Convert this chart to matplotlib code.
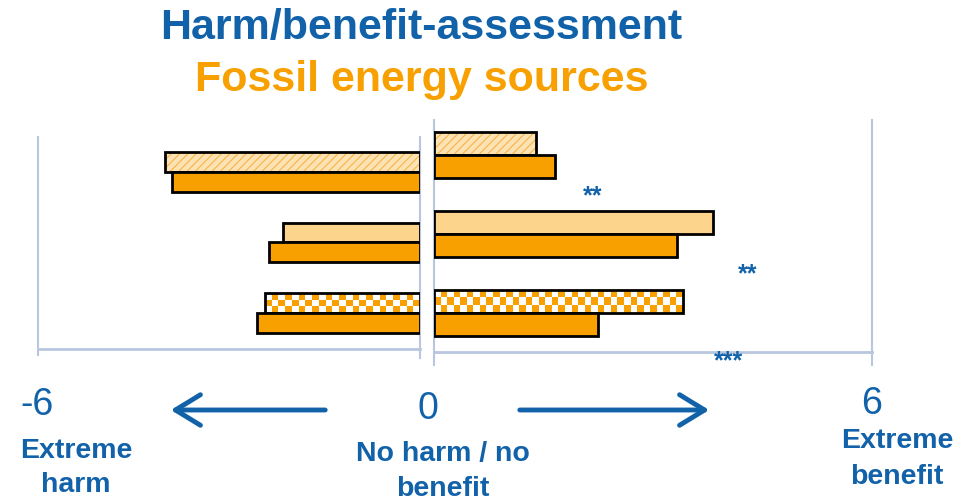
import numpy as np
import matplotlib
matplotlib.use('Agg')
import matplotlib.pyplot as plt
from matplotlib.colors import ListedColormap
from matplotlib.patches import FancyArrowPatch

# values (units of the -6 .. 6 scale)
groups = ['group 1', 'group 2', 'group 3']
harm_top = [-4.0, -2.15, -2.43]
harm_bottom = [-3.9, -2.37, -2.56]
benefit_top = [1.40, 3.82, 3.41]
benefit_bottom = [1.66, 3.33, 2.25]
top_fill = ['hatch', 'plain', 'checker']
stars = ['**', '**', '***']
star_x = [2.18, 4.29, 4.04]
star_y = [0.46, 1.45, 2.55]

BLUE = '#1262AA'
ORANGE = '#F7A000'
LIGHT = '#FCD48C'
GRID = '#B8C6DE'
W, H = 966, 504

plt.rcParams['font.family'] = ['Liberation Sans', 'DejaVu Sans']
plt.rcParams['hatch.linewidth'] = 0.8
fig = plt.figure(figsize=(9.66, 5.04), dpi=100)


def box(x0, y0, x1, y1):
    # pixel box (top-left origin) -> figure fraction rect
    return [x0 / W, 1 - y1 / H, (x1 - x0) / W, (y1 - y0) / H]


def draw_top_bar(ax, y, v, h, kind, px_per_unit):
    if kind == 'hatch':
        ax.barh(y, v, height=h, color='#FDE3B4', edgecolor='#F5B547', hatch='////', linewidth=0)
    elif kind == 'checker':
        b = ax.barh(y, v, height=h, color='white', linewidth=0)[0]
        ncols = max(1, int(round(abs(v) * px_per_unit / 6.6)))
        nrows = 3
        cells = (np.add.outer(np.arange(nrows), np.arange(ncols)) % 2).astype(float)
        im = ax.imshow(cells, cmap=ListedColormap(['white', ORANGE]), aspect='auto',
                       extent=(0, v, y + h / 2, y - h / 2), interpolation='nearest', zorder=2)
        im.set_clip_path(b)
    else:
        ax.barh(y, v, height=h, color=LIGHT, linewidth=0)
    ax.barh(y, v, height=h, color='none', edgecolor='black', linewidth=2, zorder=3)


def panel(ax, top, bottom, h, xlim, ylim, px_per_unit):
    ax.axis('off')
    for i in range(len(groups)):
        draw_top_bar(ax, i - h / 2, top[i], h, top_fill[i], px_per_unit)
        ax.barh(i + h / 2, bottom[i], height=h, color=ORANGE, edgecolor='black',
                linewidth=2, zorder=3)
    ax.set_xlim(*xlim)
    ax.set_ylim(*ylim)


# left panel: harm
axL = fig.add_axes(box(38, 130, 420, 360))
hL = 20 / 70.5
panel(axL, harm_top, harm_bottom, hL, (-6, 0), (2.667, -0.596), 63.7)
axL.plot([-6, -6], [-0.496, 2.596], color=GRID, lw=1.5, zorder=1, clip_on=False)
axL.plot([0, 0], [-0.496, 2.64], color=GRID, lw=1.5, zorder=1, clip_on=False)
axL.plot([-6, 0], [2.51, 2.51], color=GRID, lw=2, zorder=1, clip_on=False)

# right panel: benefit
axR = fig.add_axes(box(434, 115, 872, 370))
hR = 23 / 79
panel(axR, benefit_top, benefit_bottom, hR, (0, 6), (2.72, -0.506), 73)
axR.plot([0, 0], [-0.443, 2.658], color=GRID, lw=1.5, zorder=1, clip_on=False)
axR.plot([6, 6], [-0.443, 2.658], color=GRID, lw=1.5, zorder=1, clip_on=False)
axR.plot([0, 6], [2.494, 2.494], color=GRID, lw=2, zorder=1, clip_on=False)
for s, x, y in zip(stars, star_x, star_y):
    axR.text(x, y + 0.06, s, color=BLUE, fontsize=18, fontweight='bold', ha='center',
             va='center', clip_on=False)


def ftext(x, y, s, **kw):
    fig.text(x / W, 1 - y / H, s, ha='center', va='center', **kw)


ftext(421, 28, 'Harm/benefit-assessment', color=BLUE, fontsize=31, fontweight='bold')
ftext(422, 80, 'Fossil energy sources', color=ORANGE, fontsize=31, fontweight='bold')

ftext(37, 405, '-6', color=BLUE, fontsize=27)
ftext(428, 409, '0', color=BLUE, fontsize=27)
ftext(872, 404, '6', color=BLUE, fontsize=27)

lab = dict(color=BLUE, fontsize=20.5, fontweight='bold', linespacing=1.45)
ftext(76, 468, 'Extreme\nharm', **lab)
ftext(443, 471, 'No harm / no\nbenefit', **lab)
ftext(897, 459, 'Extreme\nbenefit', **lab)

head = '->, head_length=0.9, head_width=0.55'
fig.add_artist(FancyArrowPatch((328 / W, 1 - 410 / H), (168 / W, 1 - 410 / H),
               transform=fig.transFigure, arrowstyle=head, color=BLUE,
               lw=3.5, mutation_scale=20))
fig.add_artist(FancyArrowPatch((517 / W, 1 - 410 / H), (712 / W, 1 - 410 / H),
               transform=fig.transFigure, arrowstyle=head, color=BLUE,
               lw=3.5, mutation_scale=20))

fig.savefig('out.png', dpi=100)
